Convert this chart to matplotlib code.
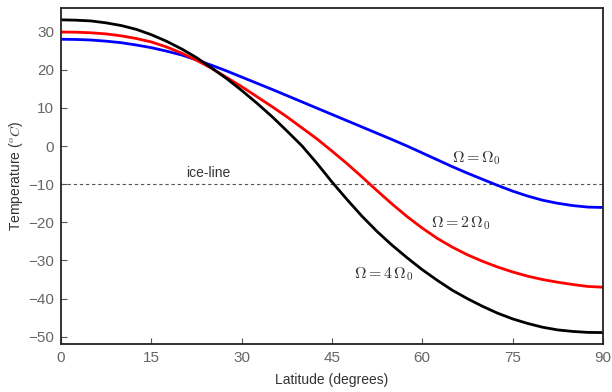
import matplotlib
matplotlib.use("Agg")
import matplotlib.pyplot as plt

plt.rcParams['font.family'] = ['Liberation Sans', 'DejaVu Sans']
plt.rcParams['mathtext.fontset'] = 'cm'

latitude = [0, 2.5, 5, 7.5, 10, 12.5, 15, 17.5, 20, 22.5, 25, 27.5, 30, 32.5, 35, 37.5,
            40, 42.5, 45, 47.5, 50, 52.5, 55, 57.5, 60, 62.5, 65, 67.5, 70, 72.5, 75,
            77.5, 80, 82.5, 85, 87.5, 90]
temp_omega1 = [28.0, 27.95, 27.8, 27.5, 27.1, 26.5, 25.8, 24.9, 23.9, 22.6, 21.2, 19.7,
               18.1, 16.5, 14.9, 13.25, 11.6, 9.95, 8.3, 6.65, 5.0, 3.35, 1.7, 0.0,
               -1.8, -3.6, -5.4, -7.1, -8.7, -10.3, -11.8, -13.1, -14.2, -15.0, -15.6,
               -16.0, -16.1]
temp_omega2 = [29.9, 29.85, 29.7, 29.4, 28.9, 28.2, 27.3, 26.0, 24.4, 22.5, 20.4, 18.0,
               15.6, 13.0, 10.4, 7.7, 4.8, 1.9, -1.3, -4.6, -8.1, -11.7, -15.2, -18.5,
               -21.5, -24.2, -26.5, -28.5, -30.2, -31.7, -33.0, -34.1, -35.0, -35.7,
               -36.3, -36.8, -37.0]
temp_omega4 = [33.1, 33.0, 32.8, 32.3, 31.6, 30.6, 29.2, 27.5, 25.5, 23.2, 20.5, 17.7,
               14.6, 11.3, 7.8, 4.0, 0.1, -4.5, -9.4, -14.0, -18.4, -22.4, -26.0, -29.3,
               -32.4, -35.2, -37.8, -40.0, -42.0, -43.8, -45.3, -46.5, -47.5, -48.2,
               -48.6, -48.85, -48.9]
ice_line = -10
xticks = [0, 15, 30, 45, 60, 75, 90]
yticks = [-50, -40, -30, -20, -10, 0, 10, 20, 30]

fig = plt.figure(figsize=(6.12, 3.92), dpi=100)
ax = fig.add_axes([0.0997, 0.1224, 0.8853, 0.8572])

ax.axhline(ice_line, color='#555555', lw=0.8, ls=(0, (3, 2.5)))
ax.plot(latitude, temp_omega1, color='#0000ff', lw=2)
ax.plot(latitude, temp_omega2, color='#ff0000', lw=2)
ax.plot(latitude, temp_omega4, color='#000000', lw=2)

ax.text(24.4, -7.1, 'ice-line', ha='center', va='center', fontsize=10, color='#333333')
ax.text(69.0, -3.1, r'$\Omega = \Omega_0$', ha='center', va='center', fontsize=11.5, color='#333333')
ax.text(66.4, -20.1, r'$\Omega = 2\,\Omega_0$', ha='center', va='center', fontsize=11.5, color='#333333')
ax.text(53.6, -33.6, r'$\Omega = 4\,\Omega_0$', ha='center', va='center', fontsize=11.5, color='#333333')

ax.set_xlim(0, 90)
ax.set_ylim(-51.9, 36.2)
ax.set_xticks(xticks)
ax.set_yticks(yticks)
ax.set_yticklabels(['\u221250', '\u221240', '\u221230', '\u221220', '\u221210', '0', '10', '20', '30'])
ax.tick_params(direction='in', length=4, width=0.8, colors='#555555', labelsize=11,
               labelcolor='#666666', pad=5)
for s in ax.spines.values():
    s.set_color('#222222')
    s.set_linewidth(1.3)

ax.set_xlabel('Latitude (degrees)', fontsize=10, color='#333333', labelpad=6)
ax.set_ylabel(r'Temperature ($^{o}C$)', fontsize=10, color='#333333', labelpad=2)

fig.savefig('out.png', dpi=100)
